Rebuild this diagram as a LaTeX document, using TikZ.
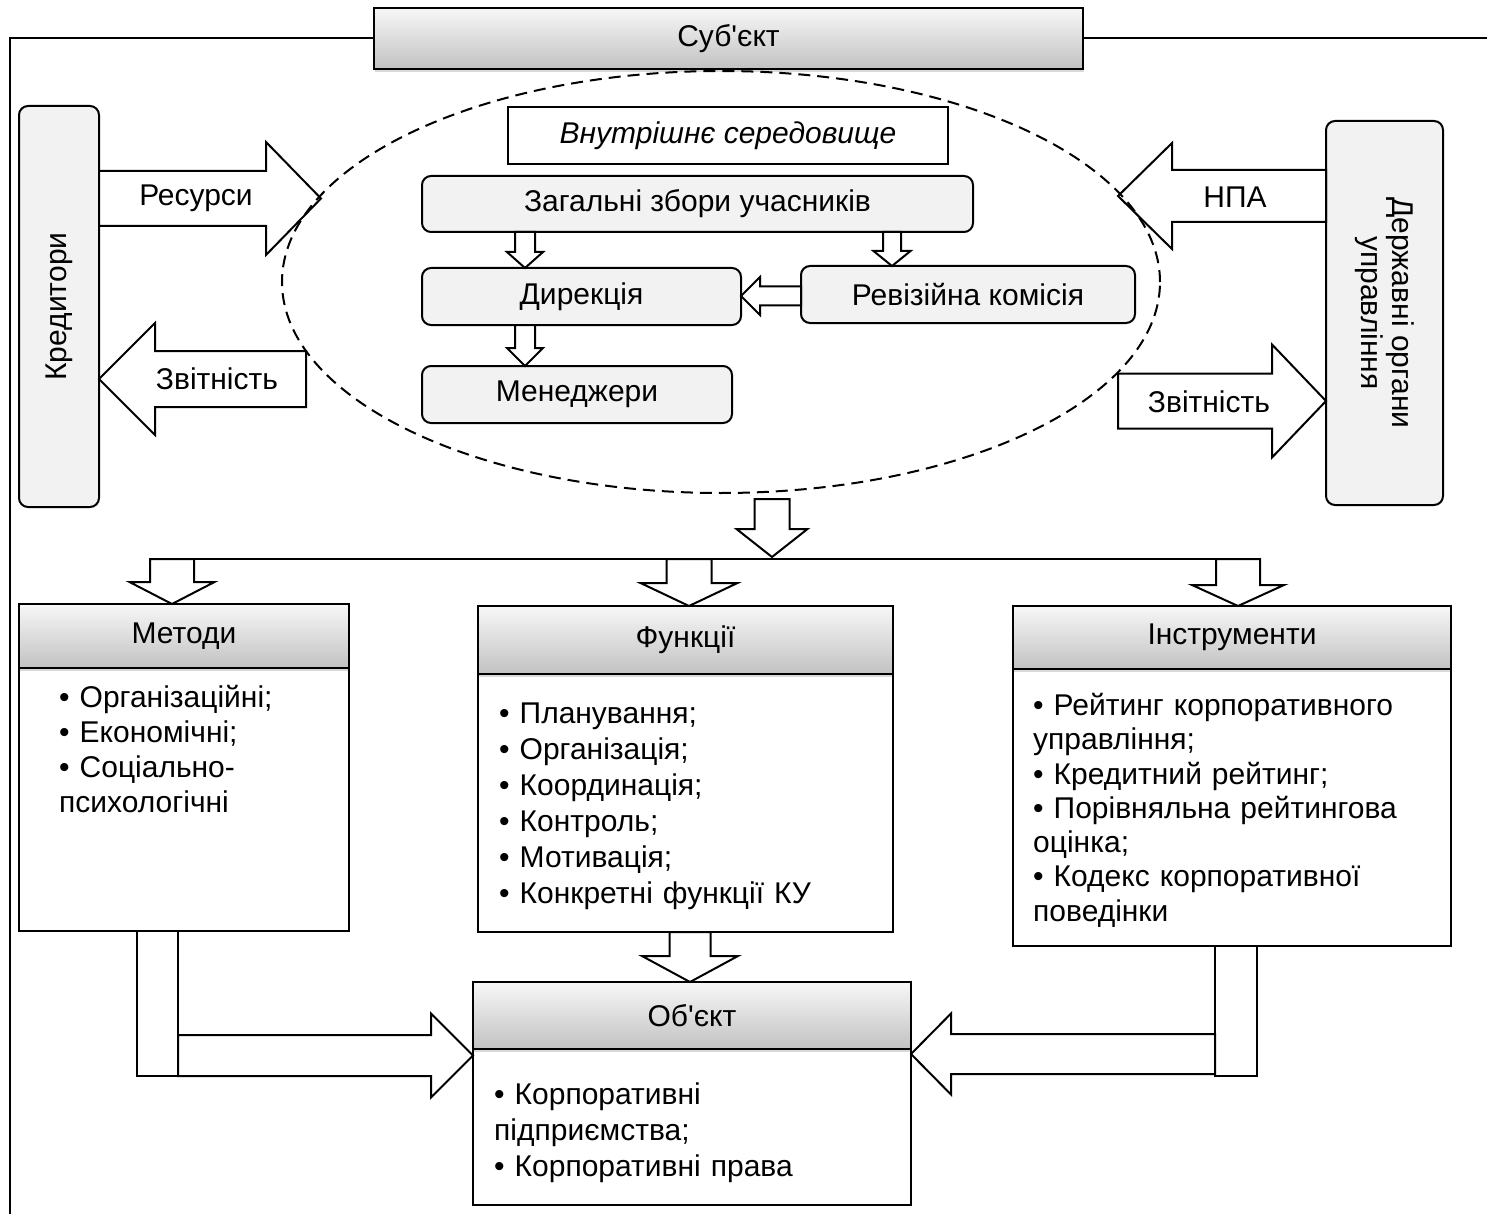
\documentclass[tikz,border=0pt]{standalone}
\usepackage{fontspec}
\setmainfont{Liberation Sans}
\usetikzlibrary{positioning,calc,shadows}

\tikzset{
  rahmen/.style = {line width=2pt},
  kopf/.style = {draw=black, line width=2pt, top color=gray!6, bottom color=gray!48,
    drop shadow={shadow xshift=1pt, shadow yshift=-3pt, opacity=.3},
    inner sep=0pt, outer sep=0pt},% kopfzeile mit verlauf
  rund/.style = {draw=black, line width=2pt, rounded corners=9pt, fill=gray!10,
    inner sep=0pt, outer sep=0pt},
  feld/.style = {draw=black, line width=2pt, inner sep=0pt, outer sep=0pt},
  liste/.style = {anchor=north west, align=left, inner sep=0pt, text width=#1},
  pfeil/.style = {draw=black, line width=2pt, fill=white, line join=miter},
  dicker/.style n args={3}{% halbe schaftbreite, halbe spitzenbreite, spitzenlaenge
    to path={let \p1=($(\tikztotarget)-(\tikztostart)$),
      \n1={veclen(\x1,\y1)}, \n2={atan2(\y1,\x1)}, \n3={\n1-#3} in
      ([shift={(\tikztostart)},rotate=\n2]0,#1)
      -- ([shift={(\tikztostart)},rotate=\n2]\n3,#1)
      -- ([shift={(\tikztostart)},rotate=\n2]\n3,#2)
      -- ([shift={(\tikztostart)},rotate=\n2]\n1,0)
      -- ([shift={(\tikztostart)},rotate=\n2]\n3,-#2)
      -- ([shift={(\tikztostart)},rotate=\n2]\n3,-#1)
      -- ([shift={(\tikztostart)},rotate=\n2]0,-#1) -- cycle}}
}

\begin{document}
\begin{tikzpicture}[x=1pt, y=-1pt, font=\fontsize{30}{35}\selectfont]
\useasboundingbox (0,0) rectangle (1487,1214);

% subjekt und rahmen
\node [kopf, minimum width=709pt, minimum height=61pt] (subj) at (728.5,38.5)
  {Суб\textquotesingle єкт};
\coordinate (ecke) at (10,38.5);
\draw [rahmen] (subj.west) -- (ecke) -- (10,1220);
\draw [rahmen] (subj.east) -- (1495,38.5);

% seitliche kaesten
\node [rund, minimum width=80pt, minimum height=401pt] (kred) at (59,306.5)
  {\rotatebox{90}{Кредитори}};
\node [rund, minimum width=117pt, minimum height=384pt] (derzh) at (1384.5,313)
  {\rotatebox{-90}{\parbox{340pt}{\centering\fontsize{30}{31}\selectfont
    Державні органи\\управління}}};

% inneres umfeld
\node [feld, fill=white, minimum width=440pt, minimum height=57pt] (vnutr) at (728,135.5)
  {\itshape Внутрішнє середовище};
\node [rund, minimum width=551pt, minimum height=56pt] (zbory) at (697.5,204)
  {Загальні збори учасників};
\node [rund, minimum width=319pt, minimum height=57pt] (dyr) at (581.5,296.5)
  {Дирекція};
\node [rund, minimum width=310pt, minimum height=57pt] (men) at (577,394.5)
  {Менеджери};
\node [rund, minimum width=334pt, minimum height=57pt] (rev) at (968,294.5)
  {Ревізійна комісія};

% untere kaesten
\node [kopf, minimum width=330pt, minimum height=64pt] (metody) at (184,636) {Методи};
\node [feld, below=0pt of metody, minimum width=330pt, minimum height=263pt] (metody-b) {};
\node [kopf, minimum width=415pt, minimum height=68pt] (funk) at (685.5,640) {Функції};
\node [feld, below=0pt of funk, minimum width=415pt, minimum height=258pt] (funk-b) {};
\node [kopf, minimum width=438pt, minimum height=63pt] (instr) at (1232,637.5) {Інструменти};
\node [feld, below=0pt of instr, minimum width=438pt, minimum height=277pt] (instr-b) {};
\node [kopf, minimum width=438pt, minimum height=67pt] (obj) at (692,1015.5)
  {Об\textquotesingle єкт};
\node [feld, below=0pt of obj, minimum width=438pt, minimum height=156pt] (obj-b) {};

\node [liste=280pt] (metody-t) at (59,685)
  {• Організаційні;\\• Економічні;\\• Соціально-\\психологічні};
\node [liste=390pt, font=\fontsize{30}{36}\selectfont] (funk-t) at (499,703)
  {• Планування;\\• Організація;\\• Координація;\\• Контроль;\\• Мотивація;\\
   • Конкретні функції КУ};
\node [liste=410pt, font=\fontsize{30}{34.3}\selectfont] (instr-t) at (1033,693)
  {• Рейтинг корпоративного\\управління;\\• Кредитний рейтинг;\\
   • Порівняльна рейтингова\\оцінка;\\• Кодекс корпоративної\\поведінки};
\node [liste=410pt, font=\fontsize{30}{36}\selectfont] (obj-t) at (494,1083)
  {• Корпоративні\\підприємства;\\• Корпоративні права};

% blockpfeile
\draw [pfeil] (kred.east |- 0,198.5) to[dicker={27.5}{56.5}{55}] (321,198.5);
\draw [pfeil] (306,379) to[dicker={28}{56}{56}] (kred.east |- 0,379);
\draw [pfeil] (derzh.west |- 0,196) to[dicker={26}{53}{54}] (1118,196);
\draw [pfeil] (1118,401) to[dicker={27.5}{56.5}{54}] (derzh.west |- 0,401);

\draw [pfeil] (zbory.south -| 525,0) to[dicker={10}{18}{16}] (dyr.north -| 525,0);
\draw [pfeil] (zbory.south -| 892,0) to[dicker={9}{18.5}{15}] (rev.north -| 892,0);
\draw [pfeil] (dyr.south -| 525,0) to[dicker={10}{18}{18}] (men.north -| 525,0);
\draw [pfeil] (rev.west |- 0,296) to[dicker={9.5}{19}{19}] (dyr.east |- 0,296);

\coordinate (verteil-l) at (150,559);
\coordinate (verteil-r) at (1259,559);
\draw [rahmen] (verteil-l) -- (verteil-r);
\draw [pfeil] (772,499) to[dicker={17.5}{35.5}{28}] (772,557);
\draw [pfeil] (172,559) to[dicker={22}{42.5}{22}] (metody.north -| 172,0);
\draw [pfeil] (689,559) to[dicker={22.5}{48.5}{23}] (funk.north -| 689,0);
\draw [pfeil] (1238,559) to[dicker={22}{46}{21}] (instr.north -| 1238,0);

\draw [pfeil] (funk-b.south -| 690,0) to[dicker={20.5}{48}{26}] (obj.north -| 690,0);
\draw [pfeil] (metody-b.south -| 137,0) rectangle (178,1076);
\draw [pfeil] (178,1055.5) to[dicker={20.5}{42}{42}] (obj.west |- 0,1055.5);
\draw [pfeil] (instr-b.south -| 1215,0) rectangle (1257,1076);
\draw [pfeil] (1215,1054) to[dicker={20}{40.5}{40}] (obj.east |- 0,1054);

% beschriftung der pfeile
\node (res-l) at (196,198.5) {Ресурси};
\node (zvit-l) at (217,379) {Звітність};
\node (npa-l) at (1235,197) {НПА};
\node (zvit-r) at (1209,402) {Звітність};

% gestrichelte ellipse
\draw [line width=2pt, dash pattern=on 12pt off 7pt] (721,282)
  ellipse [x radius=439pt, y radius=211pt];
\end{tikzpicture}
\end{document}
